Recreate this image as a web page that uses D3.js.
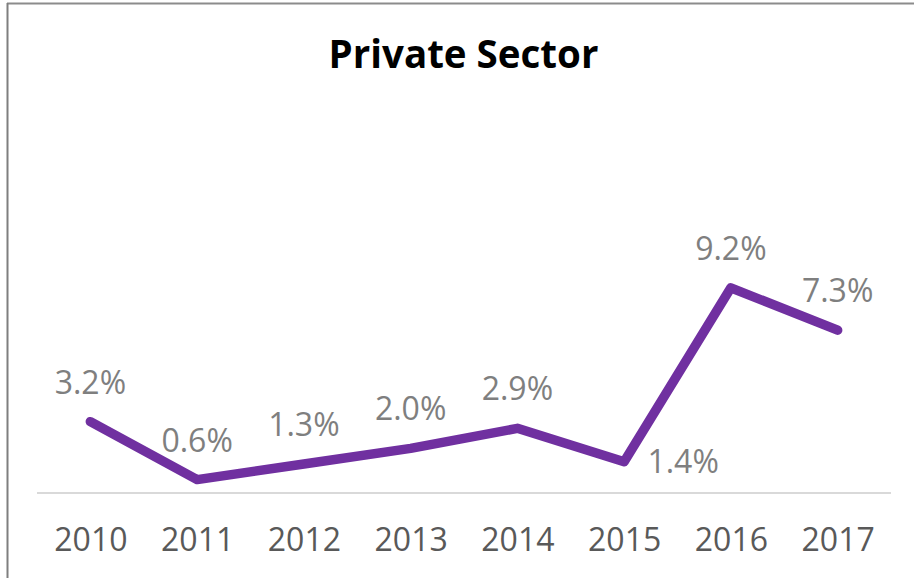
<!DOCTYPE html>
<html>
<head>
<meta charset="utf-8">
<script src="https://cdn.jsdelivr.net/npm/d3@7"></script>
<style>
  html, body { margin: 0; padding: 0; background: #fff; }
  svg { display: block; }
</style>
</head>
<body>
<svg id="chart" width="914" height="578"></svg>
<script>
// Private sector growth by year (%)
const years = ["2010", "2011", "2012", "2013", "2014", "2015", "2016", "2017"];
const growth = [3.2, 0.6, 1.3, 2.0, 2.9, 1.4, 9.2, 7.3];
const labelPlacement = ["above", "above", "above", "above", "above", "right", "above", "above"];
const title = "Private Sector";

const W = 914, H = 578;
const svg = d3.select("#chart");
const font = "'Open Sans', 'Noto Sans', sans-serif";

// Frame: top and left edges
svg.append("line").attr("x1", 7).attr("x2", W).attr("y1", 3.5).attr("y2", 3.5)
  .attr("stroke", "#8c8c8c").attr("stroke-width", 2);
svg.append("line").attr("x1", 7.5).attr("x2", 7.5).attr("y1", 3).attr("y2", H)
  .attr("stroke", "#7f7f7f").attr("stroke-width", 2);

// Title
svg.append("text")
  .attr("x", 463.5).attr("y", 68)
  .attr("text-anchor", "middle")
  .attr("font-family", font).attr("font-weight", 700)
  .attr("font-size", 38.5).attr("fill", "#000")
  .text(title);

const plotLeft = 37, plotRight = 891, plotBottom = 493, plotTop = 270;

const x = d3.scalePoint().domain(years).range([plotLeft, plotRight]).padding(0.5);
const y = d3.scaleLinear().domain([0, 10]).range([plotBottom, plotTop]);

// Category axis
const xAxis = d3.axisBottom(x).tickSize(0).tickPadding(35);
const gx = svg.append("g").attr("transform", `translate(0,${y(0)})`).call(xAxis);
gx.select(".domain").attr("stroke", "#d9d9d9").attr("stroke-width", 2)
  .attr("d", `M${plotLeft},0H${plotRight}`);
gx.selectAll("text")
  .attr("font-family", font).attr("font-size", 32)
  .attr("fill", "#595959");

// Series line
const line = d3.line().x((d, i) => x(years[i])).y(d => y(d));
svg.append("path")
  .datum(growth)
  .attr("d", line)
  .attr("fill", "none")
  .attr("stroke", "#7030a0")
  .attr("stroke-width", 9.5)
  .attr("stroke-linecap", "round")
  .attr("stroke-linejoin", "round");

// Data labels
svg.append("g").selectAll("text")
  .data(growth)
  .join("text")
  .attr("font-family", font).attr("font-size", 32)
  .attr("fill", "#7f7f7f")
  .attr("text-anchor", "middle")
  .attr("x", (d, i) => labelPlacement[i] === "right" ? x(years[i]) + 59 : x(years[i]))
  .attr("y", (d, i) => labelPlacement[i] === "right" ? y(d) + 11.5 : y(d) - 28)
  .text(d => d.toFixed(1) + "%");
</script>
</body>
</html>
